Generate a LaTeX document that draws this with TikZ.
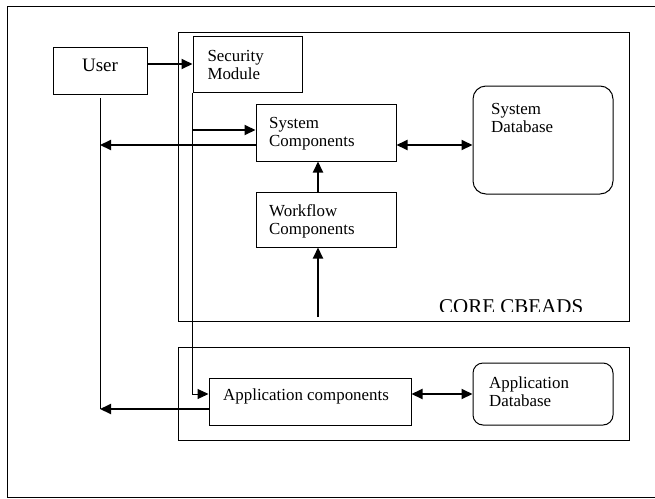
\documentclass[tikz,border=0pt]{standalone}
\usepackage{fontspec}
\setmainfont{Liberation Serif}
\usetikzlibrary{arrows.meta,calc}
\begin{document}
\begin{tikzpicture}[x=1pt,y=-1pt,
  box/.style={draw,line width=1pt,inner sep=0pt,anchor=center},
  rbox/.style={box,rounded corners=#1},
  txt/.style={inner sep=0pt,align=left,font=\fontsize{16.9}{18}\selectfont},
  tip/.tip={Triangle[length=11pt,width=10pt]},
  arr/.style={line width=2pt,-tip},
  dbl/.style={line width=2pt,tip-tip},
  thinline/.style={line width=1pt}]
\useasboundingbox (0,0) rectangle (655,498);
% outer frame
\draw[line width=1pt] (658,6) -- (7,6) -- (7,497) -- (658,497);
% containers
\node[box,minimum width=451pt,minimum height=289pt] (core) at (403.5,176.5) {};
\node[box,minimum width=451pt,minimum height=93pt] (appbox) at (403.5,393.5) {};
% boxes
\node[box,minimum width=94pt,minimum height=47pt] (user) at (100,70.5) {};
\node[box,minimum width=109pt,minimum height=56pt] (sec) at (247.5,64) {};
\node[box,minimum width=140pt,minimum height=57pt] (syscomp) at (326,132.5) {};
\node[box,minimum width=140pt,minimum height=55pt] (wf) at (326,219.5) {};
\node[rbox=13pt,minimum width=140pt,minimum height=108pt] (sysdb) at (543,140) {};
\node[box,minimum width=202pt,minimum height=47pt] (app) at (310,401.5) {};
\node[rbox=10pt,minimum width=140pt,minimum height=62pt] (appdb) at (543,394) {};
% texts
\node[inner sep=0pt,anchor=base,font=\fontsize{19}{20}\selectfont] (usert) at (100,71.7) {User};
\node[txt,anchor=north west] (sect) at (207.3,50.5) {Security\\Module};
\node[txt,anchor=north west] (syst) at (269,117.1) {System\\Components};
\node[txt,anchor=north west] (wft) at (269,204) {Workflow\\Components};
\node[txt,anchor=north west] (sysdbt) at (491,103.3) {System\\Database};
\node[txt,anchor=base west] (appt) at (223,400) {Application components};
\node[txt,anchor=north west] (appdbt) at (489,377) {Application\\Database};
\begin{scope}
\clip (420,285) rectangle (600,311);
\node[inner sep=0pt,anchor=base west,font=\fontsize{21}{24}\selectfont] (coret) at (439,313) {CORE CBEADS};
\end{scope}
% coordinates
\coordinate (appin) at ($(app.west)+(0,-7.5)$);
\coordinate (appout) at ($(app.west)+(0,7.5)$);
\coordinate (sysin) at ($(syscomp.west)+(0,-2.5)$);
\coordinate (sysout) at ($(syscomp.west)+(0,12.5)$);
\coordinate (syseast) at ($(syscomp.east)+(0,12.5)$);
\coordinate (userbot) at (100,98);
\coordinate (wftop) at ($(wf.north)+(-8,0)$);
\coordinate (wfbot) at ($(wf.south)+(-8,0)$);
\coordinate (wfup) at (318,317);
% connectors
\draw[arr] (user.east |- sec.west) -- (sec.west);
\draw[thinline,-tip] (sec.south west) |- (appin);
\draw[arr] (sec.south west |- sysin) -- (sysin);
\draw[arr] (sysout) -- (userbot |- sysout);
\draw[thinline] (userbot) -- (userbot |- appout);
\draw[arr] (appout) -- (userbot |- appout);
\draw[arr] (wftop) -- (wftop |- syscomp.south);
\draw[arr] (wfup) -- (wfbot);
\draw[dbl] (syseast) -- (sysdb.west |- syseast);
\draw[dbl] (app.east |- appdb.west) -- (appdb.west);
\end{tikzpicture}
\end{document}
